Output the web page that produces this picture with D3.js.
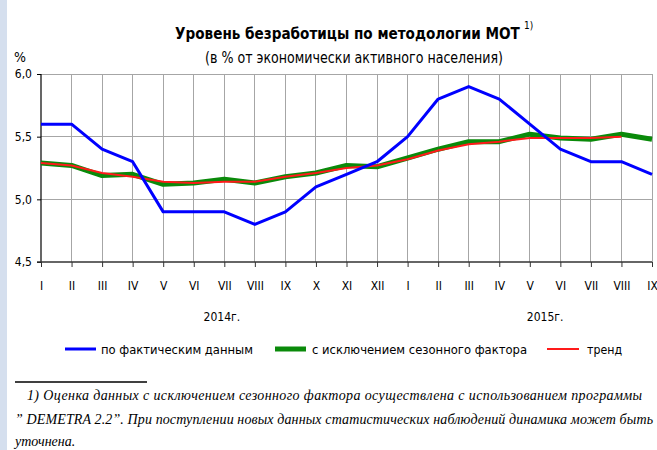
<!DOCTYPE html>
<html><head><meta charset="utf-8">
<script src="https://cdn.jsdelivr.net/npm/d3@7/dist/d3.min.js"></script>
<style>body{margin:0;background:#fff;overflow:hidden;} svg{display:block;}</style>
</head><body><svg id="c" width="657" height="450"></svg>
<script>
// ---- data ----
const months = ["I","II","III","IV","V","VI","VII","VIII","IX","X","XI","XII","I","II","III","IV","V","VI","VII","VIII","IX"];
const yearLabels = ["2014г.","2015г."];
const actual   = [5.6,5.6,5.4,5.3,4.9,4.9,4.9,4.8,4.9,5.1,5.2,5.3,5.5,5.8,5.9,5.8,5.6,5.4,5.3,5.3,5.2];
const seasonal = [5.29,5.27,5.19,5.2,5.12,5.13,5.16,5.13,5.18,5.21,5.27,5.26,5.33,5.40,5.46,5.46,5.52,5.49,5.48,5.52,5.48];
const trend    = [5.29,5.27,5.21,5.18,5.14,5.13,5.14,5.14,5.18,5.21,5.25,5.27,5.32,5.39,5.44,5.46,5.49,5.49,5.49,5.50];
const yTicks = [4.5,5.0,5.5,6.0];
const yTickLabels = ["4,5","5,0","5,5","6,0"];
const seriesNames = ["по фактическим данным","с исключением сезонного фактора","тренд"];
const titleText = "Уровень безработицы по методологии МОТ";
const titleNote = "1)";
const subtitleText = "(в % от экономически активного населения)";
const footLines = [
  "1) Оценка данных с исключением сезонного фактора осуществлена с использованием программы",
  "” DEMETRA 2.2”. При поступлении новых данных статистических наблюдений динамика может быть",
  "уточнена."
];

// ---- drawing ----
const svg = d3.select("#c");
const narrow = "'Liberation Sans Narrow','Arial Narrow','DejaVu Sans Condensed',sans-serif";

svg.append("rect").attr("x",0).attr("y",0).attr("width",657).attr("height",450).attr("fill","#fff");
svg.append("rect").attr("x",0).attr("y",0).attr("width",7).attr("height",450).attr("fill","#d5dfee");

const x = d3.scalePoint().domain(d3.range(months.length)).range([41,652]);
const xs = d3.scaleLinear().domain([0, months.length-1]).range([41,652]);
const y = d3.scaleLinear().domain([4.5,6.0]).range([262,74]);

// title: fit natural width to ~345px
const title = svg.append("text").attr("x",175).attr("y",39).attr("font-family",narrow)
  .attr("font-weight","bold").attr("font-size",18).attr("fill","#000").text(titleText);
const tw = title.node().getComputedTextLength();
const tfs = 18*345/tw;
title.attr("font-size",tfs);
svg.append("text").attr("x",175+345+4).attr("y",29).attr("font-family",narrow).attr("font-size",10)
  .attr("fill","#000").text(titleNote);

svg.append("text").attr("x",205).attr("y",63).attr("font-family",narrow).attr("font-size",15)
  .attr("fill","#000").attr("textLength",298).attr("lengthAdjust","spacingAndGlyphs").text(subtitleText);
svg.append("text").attr("x",14).attr("y",62).attr("font-family",narrow).attr("font-size",14)
  .attr("fill","#000").text("%");

// grid
const g = svg.append("g");
g.selectAll("line.v").data(d3.range(1,months.length)).join("line")
  .attr("x1",d=>x(d)).attr("x2",d=>x(d)).attr("y1",y(6.0)).attr("y2",y(4.5))
  .attr("stroke","#a6a6a6").attr("stroke-width",1).attr("shape-rendering","crispEdges");
g.selectAll("line.h").data(yTicks.slice(1)).join("line")
  .attr("x1",x(0)).attr("x2",x(months.length-1)).attr("y1",d=>y(d)).attr("y2",d=>y(d))
  .attr("stroke","#a6a6a6").attr("stroke-width",1).attr("shape-rendering","crispEdges");

// axes
const yAxis = d3.axisLeft(y).tickValues(yTicks).tickSize(4).tickPadding(5)
  .tickFormat((d,i)=>yTickLabels[i]);
const ya = svg.append("g").attr("transform",`translate(${x(0)},0)`).call(yAxis);
ya.select(".domain").attr("stroke","#000").attr("stroke-width",1.2).attr("d",`M0,${y(6.0)}V${y(4.5)}`);
ya.selectAll(".tick line").attr("stroke","#000");
ya.selectAll(".tick text").attr("font-family",narrow).attr("font-size",12).attr("fill","#000");

const xAxis = d3.axisBottom(x).tickSize(5).tickPadding(14).tickFormat(i=>months[i]);
const xa = svg.append("g").attr("transform",`translate(0,${y(4.5)})`).call(xAxis);
xa.select(".domain").attr("stroke","#333").attr("stroke-width",1.5).attr("d",`M${x(0)-4},0H${x(months.length-1)}`);
xa.selectAll(".tick line").attr("stroke","#333");
xa.selectAll(".tick text").attr("font-family",narrow).attr("font-size",12).attr("fill","#000");

svg.selectAll("text.year").data(yearLabels).join("text")
  .attr("x",(d,i)=> i===0 ? xs(5.92) : xs(16.5)).attr("y",321).attr("text-anchor","middle")
  .attr("font-family",narrow).attr("font-size",12).attr("fill","#000").text(d=>d);

// lines
const line = d3.line().x((d,i)=>x(i)).y(d=>y(d));
svg.append("path").datum(seasonal).attr("d",line).attr("fill","none")
  .attr("stroke","#0a8a0a").attr("stroke-width",5).attr("stroke-linejoin","round");
svg.append("path").datum(trend).attr("d",line).attr("fill","none")
  .attr("stroke","#ff1a1a").attr("stroke-width",2);
svg.append("path").datum(actual).attr("d",line).attr("fill","none")
  .attr("stroke","#0000ff").attr("stroke-width",3).attr("stroke-linejoin","round");

// legend
const leg = [
  {c:"#0000ff", w:3, x1:65, x2:96, tx:101, tl:152},
  {c:"#0a8a0a", w:5, x1:275, x2:306, tx:312, tl:215},
  {c:"#ff1a1a", w:2, x1:547, x2:579, tx:587, tl:35}
];
leg.forEach((l,i)=>{
  svg.append("line").attr("x1",l.x1).attr("x2",l.x2).attr("y1",349).attr("y2",349)
    .attr("stroke",l.c).attr("stroke-width",l.w).attr("stroke-linecap","butt");
  svg.append("text").attr("x",l.tx).attr("y",354).attr("font-family",narrow).attr("font-size",13)
    .attr("fill","#000").attr("textLength",l.tl).attr("lengthAdjust","spacingAndGlyphs").text(seriesNames[i]);
});

// footnote
svg.append("line").attr("x1",15).attr("x2",147).attr("y1",382).attr("y2",382)
  .attr("stroke","#000").attr("stroke-width",1.5);
const serif = "'Liberation Serif','DejaVu Serif',serif";
const fl = [{x:27,y:400,tl:615},{x:15,y:424,tl:638},{x:15,y:446,tl:null}];
fl.forEach((f,i)=>{
  const tt = svg.append("text").attr("x",f.x).attr("y",f.y).attr("font-family",serif)
    .attr("font-style","italic").attr("font-size",14).attr("fill","#000").text(footLines[i]);
  if (f.tl) tt.attr("textLength",f.tl).attr("lengthAdjust","spacing");
});
</script></body></html>
